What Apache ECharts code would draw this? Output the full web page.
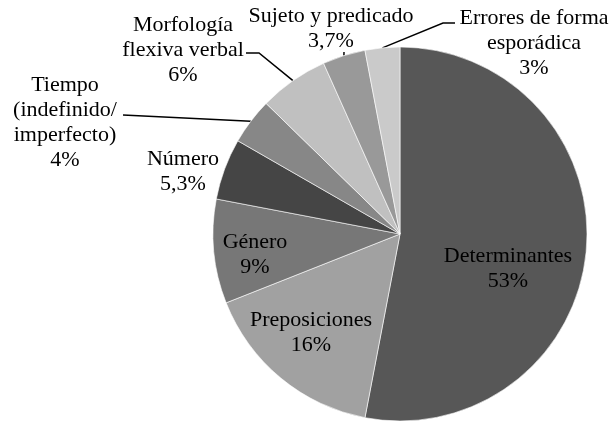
<!DOCTYPE html>
<html>
<head>
<meta charset="utf-8">
<script src="https://cdn.jsdelivr.net/npm/echarts@6/dist/echarts.min.js"></script>
<style>
  html, body { margin: 0; padding: 0; background: #fff; }
  #chart { width: 610px; height: 422px; }
</style>
</head>
<body>
<div id="chart"></div>
<script>
const categories = [
  'Determinantes',
  'Preposiciones',
  'Género',
  'Número',
  'Tiempo\n(indefinido/\nimperfecto)',
  'Morfología\nflexiva verbal',
  'Sujeto y predicado',
  'Errores de forma\nesporádica'
]
const values = [53, 16, 9, 5.3, 4, 6, 3.7, 3]
const valueLabels = ['53%', '16%', '9%', '5,3%', '4%', '6%', '3,7%', '3%']

// slice fills, clockwise from 12 o'clock
const colors = ['#575757', '#a1a1a1', '#777777', '#454545', '#878787', '#c0c0c0', '#999999', '#cacaca']
// where each label block is centred
const labelCenters = [[508, 269], [311, 333], [255, 255], [183, 172], [65, 123], [183, 50], [331, 29], [534, 43]]
// leader line bend / end points (null = no leader)
const leaders = [null, null, null, null, [[123, 115]], [[259, 53], [246, 53]], [[344, 52]], [[443, 23], [455, 23]]]

const serif = '"Liberation Serif", "Times New Roman", serif'

const chart = echarts.init(document.getElementById('chart'))

chart.setOption({
  animation: false,
  textStyle: { fontFamily: serif },
  series: [
    {
      type: 'pie',
      center: [400, 234],
      radius: 187,
      startAngle: 90,
      clockwise: true,
      avoidLabelOverlap: false,
      itemStyle: { borderColor: '#ffffff', borderWidth: 0.6 },
      label: {
        show: true,
        position: 'outside',
        fontFamily: serif,
        fontSize: 22,
        lineHeight: 25,
        color: '#000',
        align: 'center',
        formatter: p => categories[p.dataIndex] + '\n' + valueLabels[p.dataIndex]
      },
      labelLine: {
        show: true,
        length: 10,
        length2: 10,
        lineStyle: { color: '#000', width: 1.5 }
      },
      labelLayout: params => {
        const i = params.dataIndex
        const [x, y] = labelCenters[i]
        const out = { x, y, align: 'center', verticalAlign: 'middle' }
        if (leaders[i] && params.labelLinePoints) {
          out.labelLinePoints = [params.labelLinePoints[0]].concat(leaders[i])
        }
        return out
      },
      data: values.map((v, i) => ({
        value: v,
        name: categories[i],
        itemStyle: { color: colors[i] },
        labelLine: { show: !!leaders[i] }
      }))
    }
  ]
})
</script>
</body>
</html>
